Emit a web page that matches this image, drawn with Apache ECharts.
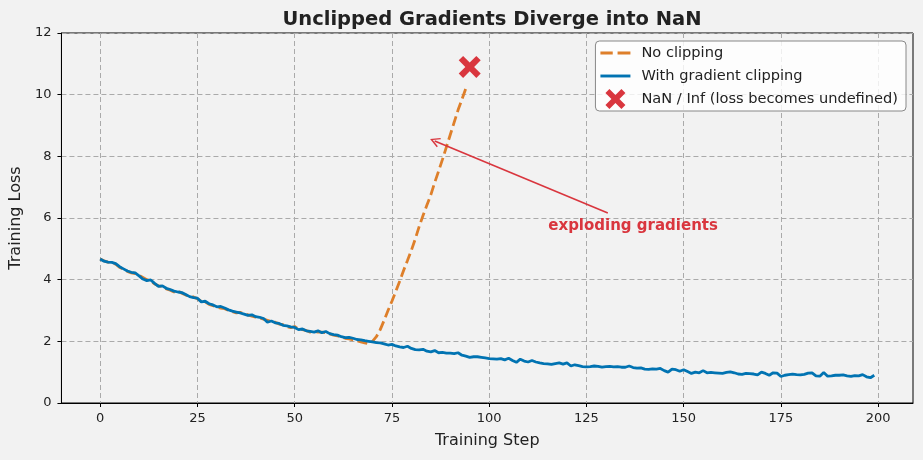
<!DOCTYPE html>
<html>
<head>
<meta charset="UTF-8">
<script src="https://cdn.jsdelivr.net/npm/echarts@6/dist/echarts.min.js"></script>
<style>
  html, body { margin: 0; padding: 0; background: #f2f2f2; }
  #main { width: 923px; height: 460px; }
</style>
</head>
<body>
<div id="main"></div>
<script>
// loss with gradient clipping, steps 0..199
var clipped = [
  4.67, 4.60, 4.57, 4.56, 4.52, 4.42, 4.35, 4.28, 4.24, 4.22,
  4.12, 4.02, 3.97, 3.99, 3.88, 3.78, 3.80, 3.72, 3.68, 3.63,
  3.60, 3.58, 3.52, 3.45, 3.42, 3.40, 3.28, 3.30, 3.22, 3.18,
  3.12, 3.13, 3.08, 3.02, 2.98, 2.95, 2.92, 2.88, 2.84, 2.86,
  2.80, 2.78, 2.74, 2.62, 2.66, 2.60, 2.58, 2.52, 2.50, 2.47,
  2.45, 2.38, 2.40, 2.34, 2.32, 2.30, 2.34, 2.28, 2.32, 2.25,
  2.22, 2.20, 2.15, 2.12, 2.13, 2.10, 2.06, 2.05, 2.02, 2.00,
  1.98, 1.96, 1.95, 1.92, 1.88, 1.90, 1.85, 1.82, 1.80, 1.84,
  1.77, 1.73, 1.72, 1.74, 1.68, 1.66, 1.70, 1.63, 1.64, 1.62,
  1.62, 1.60, 1.63, 1.55, 1.52, 1.48, 1.50, 1.50, 1.48, 1.46,
  1.44, 1.43, 1.42, 1.44, 1.40, 1.45, 1.38, 1.32, 1.42, 1.36,
  1.33, 1.38, 1.33, 1.30, 1.28, 1.27, 1.25, 1.28, 1.30, 1.26,
  1.30, 1.20, 1.24, 1.21, 1.18, 1.17, 1.18, 1.20, 1.19, 1.16,
  1.18, 1.19, 1.17, 1.18, 1.16, 1.16, 1.20, 1.15, 1.13, 1.14,
  1.10, 1.09, 1.11, 1.10, 1.12, 1.05, 1.00, 1.10, 1.08, 1.03,
  1.08, 1.02, 0.96, 1.00, 0.98, 1.05, 0.98, 0.99, 0.98, 0.97,
  0.96, 0.99, 1.01, 0.98, 0.94, 0.93, 0.96, 0.95, 0.94, 0.91,
  1.00, 0.96, 0.90, 0.98, 0.97, 0.86, 0.90, 0.92, 0.94, 0.92,
  0.91, 0.93, 0.97, 0.98, 0.88, 0.87, 0.99, 0.87, 0.88, 0.90,
  0.90, 0.91, 0.88, 0.86, 0.89, 0.88, 0.92, 0.85, 0.82, 0.90
];
// loss without clipping, steps 0..94 (then NaN)
var unclipped = [
  4.67, 4.61, 4.57, 4.55, 4.50, 4.40, 4.34, 4.27, 4.22, 4.20,
  4.14, 4.07, 4.00, 3.96, 3.86, 3.80, 3.78, 3.70, 3.66, 3.60,
  3.64, 3.56, 3.50, 3.47, 3.44, 3.38, 3.30, 3.28, 3.20, 3.16,
  3.10, 3.08, 3.06, 3.00, 2.96, 2.92, 2.94, 2.90, 2.86, 2.82,
  2.78, 2.76, 2.72, 2.68, 2.64, 2.62, 2.56, 2.54, 2.48, 2.44,
  2.48, 2.40, 2.38, 2.35, 2.30, 2.32, 2.30, 2.30, 2.28, 2.24,
  2.20, 2.18, 2.14, 2.10, 2.08, 2.05, 2.02, 1.98, 1.95, 1.92,
  2.00, 2.15, 2.38, 2.68, 3.00, 3.30, 3.62, 3.95, 4.30, 4.62,
  4.95, 5.32, 5.72, 6.08, 6.42, 6.75, 7.15, 7.52, 7.90, 8.30,
  8.70, 9.10, 9.50, 9.85, 10.20
];
var nanPoint = [95, 10.9];
var xTicks = [0, 25, 50, 75, 100, 125, 150, 175, 200];
var yTicks = [0, 2, 4, 6, 8, 10, 12];
var arrowFrom = [130.5, 6.16];
var arrowTo = [86, 8.5];
var noteAt = [137, 5.75];
var noteText = 'exploding gradients';

var ORANGE = '#de7f2a', BLUE = '#0173b2', RED = '#d9363e';
var FONT = 'DejaVu Sans';
var xPath = 'path://M4,0L10,6L16,0L20,4L14,10L20,16L16,20L10,14L4,20L0,16L6,10L0,4Z';
// open "->" style head, tip pointing up
var headPath = 'path://M5,0L10,9L8.8,9.7L5,2.8L1.2,9.7L0,9Z';

function pairs(arr) {
    return arr.map(function (v, i) { return [i, v]; });
}

var chart = echarts.init(document.getElementById('main'));
var option = {
    backgroundColor: '#f2f2f2',
    animation: false,
    textStyle: { fontFamily: FONT },
    title: {
        text: 'Unclipped Gradients Diverge into NaN',
        left: 487, top: 5, textAlign: 'center',
        textStyle: { fontFamily: FONT, fontSize: 19.5, fontWeight: 'bold', color: '#222' }
    },
    legend: {
        orient: 'vertical',
        right: 17, top: 41,
        itemWidth: 30, itemHeight: 20, itemGap: 3,
        padding: [2, 8, 2, 5],
        backgroundColor: 'rgba(255,255,255,0.8)',
        borderColor: '#888', borderWidth: 1, borderRadius: 4,
        textStyle: { fontFamily: FONT, fontSize: 14.6, color: '#222', padding: [0, 0, 0, 6], lineHeight: 20 },
        data: [
            { name: 'No clipping', icon: 'path://M0,0h11.5v3h-11.5z M16,0h12v3h-12z', itemStyle: { color: ORANGE } },
            { name: 'With gradient clipping', icon: 'path://M0,0h31v3h-31z', itemStyle: { color: BLUE } },
            { name: 'NaN / Inf (loss becomes undefined)', icon: xPath, itemStyle: { color: RED, opacity: 1 } }
        ]
    },
    grid: {
        left: 61, right: 10, top: 33, bottom: 57,
        show: true, borderColor: '#000', borderWidth: 1, backgroundColor: '#f2f2f2'
    },
    xAxis: {
        type: 'value', min: -9.95, max: 208.95,
        name: 'Training Step', nameLocation: 'middle', nameGap: 30,
        nameTextStyle: { fontFamily: FONT, fontSize: 16, color: '#222' },
        axisLine: { show: true, onZero: false, lineStyle: { color: '#000', width: 1 } },
        axisTick: { show: true, length: 4, customValues: xTicks, lineStyle: { color: '#000' } },
        axisLabel: { customValues: xTicks, fontFamily: FONT, fontSize: 13, color: '#222', margin: 9 },
        splitLine: { show: true, lineStyle: { color: '#aaa', type: [5, 3], width: 1 } }
    },
    yAxis: {
        type: 'value', min: 0, max: 12, interval: 2,
        name: 'Training Loss', nameLocation: 'middle', nameGap: 36,
        nameTextStyle: { fontFamily: FONT, fontSize: 16, color: '#222' },
        axisLine: { show: true, onZero: false, lineStyle: { color: '#000', width: 1 } },
        axisTick: { show: true, length: 4, lineStyle: { color: '#000' } },
        axisLabel: { fontFamily: FONT, fontSize: 13, color: '#222', margin: 10,
            formatter: function (v) { return yTicks.indexOf(v) >= 0 ? String(v) : ''; } },
        splitLine: { show: true, lineStyle: { color: '#aaa', type: [5, 3], width: 1 } }
    },
    series: [
        {
            name: 'No clipping', type: 'line', data: pairs(unclipped),
            showSymbol: false, symbol: 'none',
            lineStyle: { color: ORANGE, width: 2.8, type: [10, 4.5] },
            itemStyle: { color: ORANGE }
        },
        {
            name: 'With gradient clipping', type: 'line', data: pairs(clipped),
            showSymbol: false, symbol: 'none',
            lineStyle: { color: BLUE, width: 2.8 },
            itemStyle: { color: BLUE }
        },
        {
            name: 'NaN / Inf (loss becomes undefined)', type: 'scatter',
            data: [nanPoint], symbol: xPath, symbolSize: 22,
            itemStyle: { color: RED, opacity: 1 },
            z: 5,
            markLine: {
                silent: true,
                symbol: ['none', headPath], symbolSize: 10,
                label: { show: false },
                lineStyle: { color: RED, width: 1.6, type: 'solid', opacity: 1 },
                itemStyle: { color: RED },
                data: [[{ coord: arrowFrom }, { coord: arrowTo }]]
            }
        }
    ]
};
chart.setOption(option);

var p = chart.convertToPixel({ gridIndex: 0 }, noteAt);
chart.setOption({
    graphic: [{
        type: 'text', x: p[0], y: p[1], z: 10,
        style: {
            text: noteText, fill: RED, align: 'center', verticalAlign: 'middle',
            font: 'bold 15px "DejaVu Sans"'
        }
    }]
});
</script>
</body>
</html>
